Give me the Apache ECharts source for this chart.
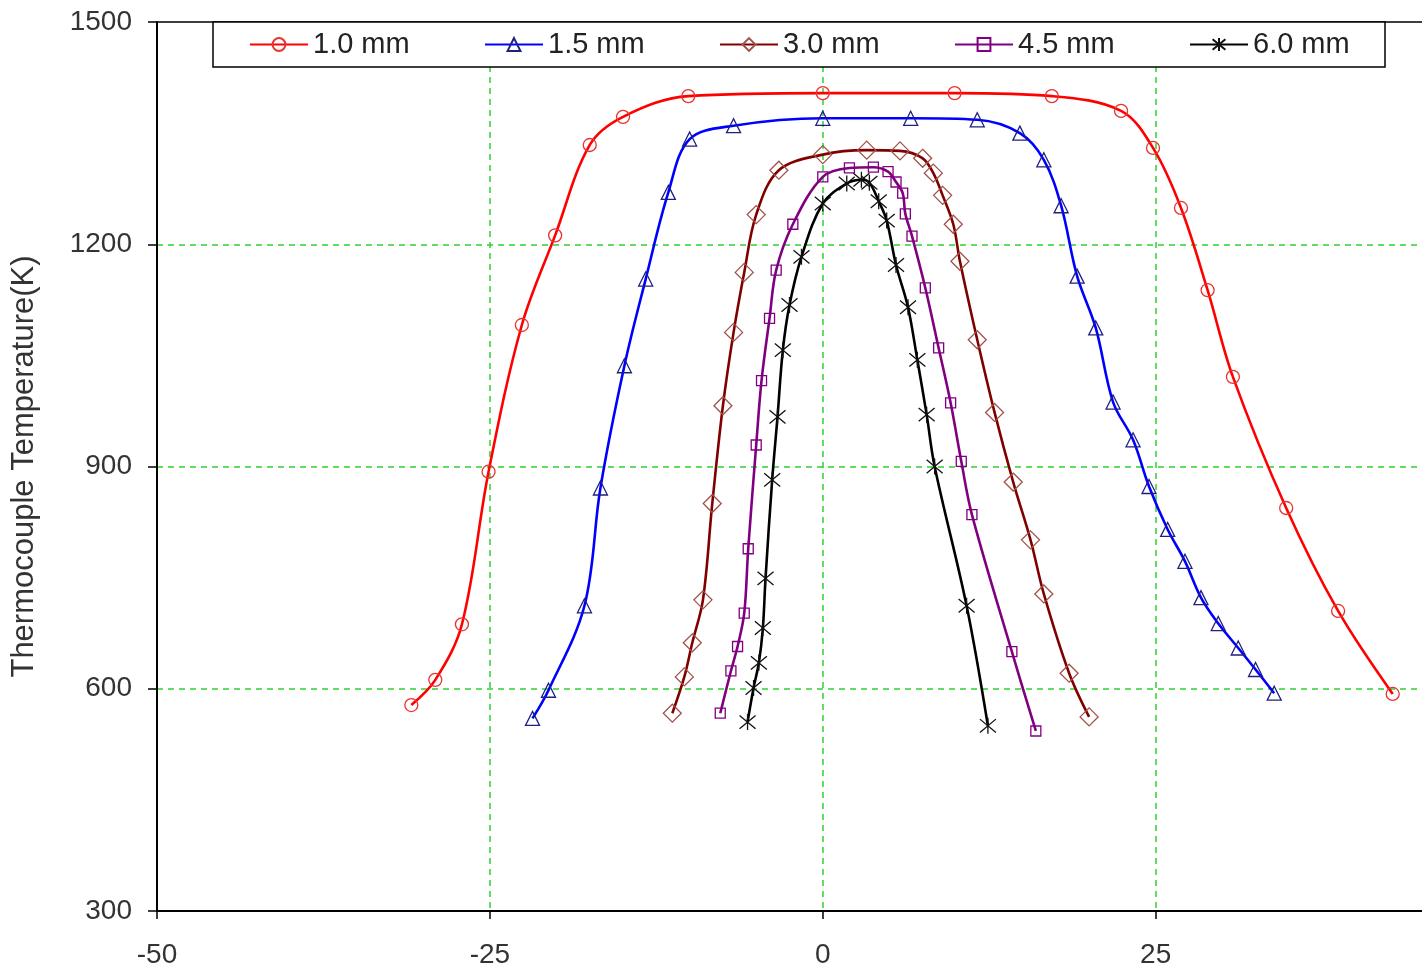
<!DOCTYPE html>
<html>
<head>
<meta charset="utf-8">
<script src="https://cdn.jsdelivr.net/npm/echarts@6/dist/echarts.min.js"></script>
<style>
  html, body { margin: 0; padding: 0; background: #fff; }
  #main { width: 1422px; height: 973px; }
</style>
</head>
<body>
<div id="main"></div>
<script>
// distance (mm) vs thermocouple temperature (K)
const names = ['1.0 mm', '1.5 mm', '3.0 mm', '4.5 mm', '6.0 mm'];

const x10 = [-30.9, -29.1, -27.1, -25.1, -22.6, -20.1, -17.5, -15.0, -10.1, 0, 9.9, 17.2, 22.4, 24.8, 26.9, 28.9, 30.8, 34.8, 38.7, 42.8];
const t10 = [578, 612, 687, 893, 1091, 1212, 1334, 1372, 1400, 1404, 1404, 1400, 1380, 1330, 1249, 1138, 1021, 844, 705, 593];

const x15 = [-21.8, -20.6, -17.9, -16.7, -14.9, -13.3, -11.6, -10.0, -6.7, 0, 6.6, 11.6, 14.8, 16.6, 17.9, 19.1, 20.5, 21.8, 23.3, 24.5, 25.9, 27.2, 28.4, 29.7, 31.2, 32.5, 33.9];
const t15 = [560, 598, 712, 871, 1036, 1153, 1270, 1342, 1360, 1370, 1370, 1368, 1350, 1314, 1252, 1157, 1087, 987, 936, 873, 815, 772, 723, 688, 655, 626, 594];

const x30 = [-11.3, -10.4, -9.8, -9.0, -8.3, -7.5, -6.7, -5.9, -5.0, -3.3, 0, 3.3, 5.8, 7.5, 8.3, 9.0, 9.8, 10.3, 11.6, 12.9, 14.3, 15.6, 16.6, 18.5, 20.0];
const t30 = [567, 616, 662, 720, 850, 982, 1081, 1162, 1240, 1300, 1321, 1327, 1326, 1316, 1296, 1266, 1227, 1177, 1071, 973, 879, 801, 728, 621, 562];

const x45 = [-7.7, -6.9, -6.4, -5.9, -5.6, -5.0, -4.6, -4.0, -3.5, -2.25, 0, 2.0, 3.8, 4.9, 5.5, 6.0, 6.2, 6.7, 7.7, 8.7, 9.6, 10.4, 11.2, 14.2, 16.0];
const t45 = [567, 624, 657, 702, 789, 929, 1016, 1100, 1165, 1227, 1291, 1303, 1304, 1298, 1284, 1269, 1241, 1211, 1141, 1060, 986, 907, 835, 650, 543];

const x60 = [-5.65, -5.2, -4.8, -4.5, -4.3, -3.8, -3.4, -3.0, -2.5, -1.6, 0.0, 1.8, 2.9, 3.5, 4.2, 4.8, 5.5, 6.4, 7.1, 7.8, 8.4, 10.8, 12.4];
const t60 = [555, 601, 635, 682, 749, 882, 967, 1057, 1118, 1183, 1255, 1282, 1287, 1283, 1258, 1232, 1172, 1115, 1044, 970, 900, 712, 550];

const xTicks = [-50, -25, 0, 25];

function pairs(xs, ys) {
  return xs.map((x, i) => [x, ys[i]]);
}

const green = '#2fd12f';
const hide = 'rgba(0,0,0,0)';
const font = 'Liberation Sans, Arial, sans-serif';
const asterisk = 'path://M0 0L10 10M10 0L0 10M5 -1L5 11';

function line(name, data, lineColor, symbol, size, markColor) {
  return {
    name: name,
    type: 'line',
    data: data,
    smooth: 0.35,
    symbol: symbol,
    symbolSize: size,
    showAllSymbol: true,
    lineStyle: { color: lineColor, width: 2.6 },
    itemStyle: { color: 'rgba(255,255,255,0)', borderColor: markColor, borderWidth: 1.3 },
    emphasis: { disabled: true },
    z: 3
  };
}

var myChart = echarts.init(document.getElementById('main'));
myChart.setOption({
  animation: false,
  backgroundColor: '#fff',
  grid: { left: 157, top: 22, right: 0, bottom: 62 },
  legend: {
    left: 213,
    top: 22,
    backgroundColor: '#fff',
    borderColor: '#000',
    borderWidth: 1.5,
    borderRadius: 0,
    padding: [8, 35, 8, 36],
    itemWidth: 58,
    itemHeight: 16,
    itemGap: 74,
    textStyle: { fontFamily: font, fontSize: 29, color: '#222', width: 97, lineHeight: 29 },
    data: names
  },
  xAxis: [{
    type: 'value',
    min: -50,
    max: 45,
    interval: 25,
    axisLine: { onZero: false, lineStyle: { color: '#000', width: 2 } },
    axisTick: { show: true, length: 8, customValues: xTicks, lineStyle: { color: '#000', width: 1.5 } },
    axisLabel: { customValues: xTicks, margin: 30, fontFamily: font, fontSize: 28, color: '#333' },
    splitLine: { show: true, lineStyle: { color: [hide, green, green, green, hide], type: [6, 5], width: 1.5 } }
  }, {
    type: 'value',
    position: 'top',
    min: -50,
    max: 45,
    axisLine: { onZero: false, lineStyle: { color: '#000', width: 1.5 } },
    axisTick: { show: false },
    axisLabel: { show: false },
    splitLine: { show: false }
  }],
  yAxis: {
    type: 'value',
    min: 300,
    max: 1500,
    interval: 300,
    name: 'Thermocouple Temperature(K)',
    nameLocation: 'middle',
    nameGap: 117,
    nameTextStyle: { fontFamily: font, fontSize: 31, color: '#333' },
    axisLine: { show: true, onZero: false, lineStyle: { color: '#000', width: 2 } },
    axisTick: { show: true, length: 9, lineStyle: { color: '#000', width: 1.5 } },
    axisLabel: { margin: 25, fontFamily: font, fontSize: 28, color: '#333', formatter: v => String(v) },
    splitLine: { show: true, lineStyle: { color: [hide, green, green, green, hide], type: [6, 5], width: 1.5 } }
  },
  series: [
    line(names[0], pairs(x10, t10), '#ff0000', 'circle', 13, '#e8332f'),
    line(names[1], pairs(x15, t15), '#0000ff', 'triangle', 14, '#1f1f80'),
    line(names[2], pairs(x30, t30), '#800000', 'diamond', 18, '#a0524a'),
    line(names[3], pairs(x45, t45), '#800080', 'rect', 10, '#800080'),
    line(names[4], pairs(x60, t60), '#000000', asterisk, 16, '#111111')
  ]
});
</script>
</body>
</html>
